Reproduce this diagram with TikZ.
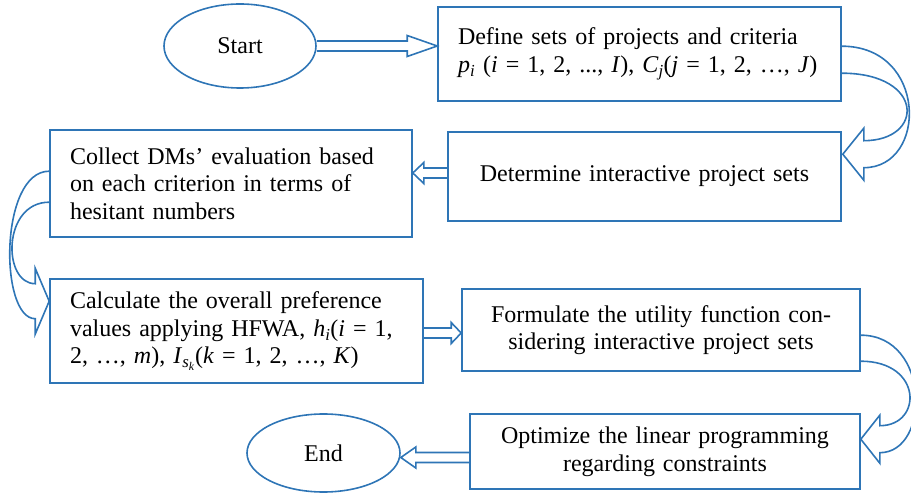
\documentclass[tikz,border=0pt]{standalone}
\usepackage{fontspec}
\setmainfont{Liberation Serif}
\usetikzlibrary{shapes.geometric, calc}
\definecolor{flowblue}{RGB}{46,117,182}
\tikzset{
	flowline/.style = {draw = flowblue, line width = 1.6pt},
	stepbox/.style = {flowline, rectangle, inner xsep = 20pt, inner ysep = 0pt, font = \fontsize{24}{27.6}\selectfont},
	terminal/.style = {flowline, ellipse, inner sep = 0pt, font = \fontsize{24}{27.6}\selectfont}
}
\newcommand{\varsub}[2]{\textit{#1}\textsubscript{\textit{#2}}}
\newcommand{\hollowarrow}[3]{%
	\draw[flowline] let \p1 = (#1), \p2 = (#2), \n1 = {ifthenelse(\x2>\x1,1,-1)} in
		(\x1,\y1+5) -- ({\x2-(\n1)*#3},\y1+5) -- ({\x2-(\n1)*#3},\y1+10.5) -- (\x2,\y1)
		-- ({\x2-(\n1)*#3},\y1-10.5) -- ({\x2-(\n1)*#3},\y1-5) -- (\x1,\y1-5);}

\begin{document}
\begin{tikzpicture}[x = 1pt, y = -1pt]
	\useasboundingbox (0,0) rectangle (911,497);
	\node[terminal, minimum width = 152, minimum height = 84] (start) at (240,46) {Start};
	\node[stepbox, minimum height = 94, text width = 363, align = left] (def) at (639.5,54)
		{Define sets of projects and criteria\\ \varsub{p}{i} (\textit{i} = 1, 2, ..., \textit{I}), \varsub{C}{j}(\textit{j} = 1, 2, …, \textit{J})};
	\node[stepbox, minimum height = 89, text width = 353, align = center] (det) at (644.5,176.5)
		{Determine interactive project sets};
	\node[stepbox, minimum height = 107, text width = 322, align = left] (col) at (231,183.5)
		{Collect DMs’ evaluation based\\ on each criterion in terms of\\ hesitant numbers};
	\node[stepbox, minimum height = 104, text width = 333, align = left] (calc) at (236.5,331)
		{Calculate the overall preference\\ values applying HFWA, \varsub{h}{i}(\textit{i} = 1,\\ 2, …, \textit{m}), \textit{I}\textsubscript{\textit{s}\textsubscript{\textit{k}}}(\textit{k} = 1, 2, …, \textit{K})};
	\node[stepbox, minimum height = 82, text width = 358, align = center] (form) at (661,330)
		{Formulate the utility function con-\\ sidering interactive project sets};
	\node[stepbox, minimum height = 75, text width = 350, align = center] (opt) at (665,451.5)
		{Optimize the linear programming\\ regarding constraints};
	\node[terminal, minimum width = 153, minimum height = 78] (end) at (323.5,453) {End};

	\hollowarrow{start.east}{def.west}{30}
	\coordinate (dettail) at ($(det.west)+(0,-3.5)$);
	\hollowarrow{dettail}{col.east}{11}
	\coordinate (calctail) at ($(calc.east)+(0,2)$);
	\hollowarrow{calctail}{form.west}{10}
	\coordinate (opttail) at ($(opt.west)+(0,6)$);
	\hollowarrow{opttail}{end.east}{15}

	\coordinate (defout) at ($(def.north east)+(0,40)$);
	\coordinate (defin) at ($(def.north east)+(0,67)$);
	\coordinate (dettip) at ($(det.north east)+(1,23)$);
	\draw[flowline] (defout) .. controls +(86,0) and +(64,0) .. ($(dettip)+(21,13.5)$) -- ++(0,12.5) -- (dettip)
		-- ++(21,-26) -- ++(0,12.5) .. controls +(61,0) and +(83,0) .. (defin);

	\coordinate (colout) at ($(col.north west)+(0,42)$);
	\coordinate (colin) at ($(col.north west)+(0,73)$);
	\coordinate (calctip) at ($(calc.north west)+(0,23)$);
	\draw[flowline] (colout) .. controls +(-50,0) and +(-36,0) .. ($(calctip)+(-14,17.5)$) -- ++(0,15.5) -- (calctip)
		-- ++(-14,-33) -- ++(0,15.5) .. controls +(-33,0) and +(-47,0) .. (colin);

	\coordinate (formout) at ($(form.north east)+(0,47)$);
	\coordinate (formin) at ($(form.north east)+(0,73)$);
	\coordinate (opttip) at ($(opt.north east)+(0,26)$);
	\draw[flowline] (formout) .. controls +(70,0) and +(51,0) .. ($(opttip)+(19,13.5)$) -- ++(0,10.5) -- (opttip)
		-- ++(19,-24) -- ++(0,10.5) .. controls +(43,0) and +(62,0) .. (formin);
\end{tikzpicture}
\end{document}
